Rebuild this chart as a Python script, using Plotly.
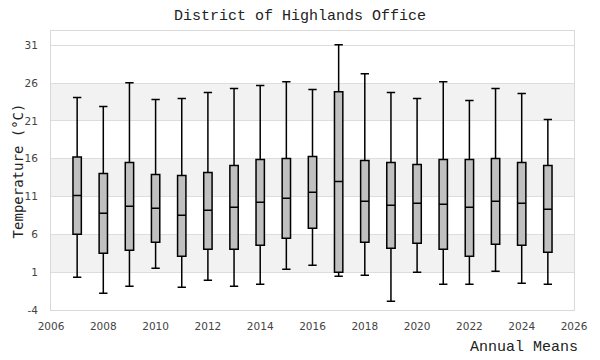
import plotly.graph_objects as go

years = list(range(2007, 2026))
upper = [24.09, 22.9, 26.07, 23.83, 23.96, 24.75, 25.28, 25.68, 26.2, 25.15, 31.09, 27.26, 24.75, 23.96, 26.2, 23.7, 25.28, 24.62, 21.19]
q3 =    [16.25, 14.06, 15.52, 13.93, 13.8, 14.2, 15.12, 15.91, 16.04, 16.3, 24.88, 15.78, 15.52, 15.25, 15.91, 15.91, 16.04, 15.52, 15.12]
median = [11.16, 8.79, 9.71, 9.45, 8.52, 9.18, 9.58, 10.24, 10.77, 11.56, 13.0, 10.37, 9.84, 10.11, 9.97, 9.58, 10.37, 10.11, 9.31]
q1 =    [6.01, 3.51, 3.9, 4.96, 3.11, 4.04, 4.04, 4.56, 5.49, 6.81, 1.0, 4.96, 4.17, 4.83, 4.04, 3.11, 4.7, 4.56, 3.64]
lower = [0.34, -1.77, -0.85, 1.53, -0.98, -0.06, -0.85, -0.58, 1.4, 1.92, 0.47, 0.6, -2.83, 1.0, -0.58, -0.58, 1.13, -0.45, -0.58]

y_ticks = [-4, 1, 6, 11, 16, 21, 26, 31]
y_labels = ["-4", "1", "6", "11", "16", "21", "26", "31"]
x_ticks = list(range(2006, 2027, 2))
bands = [(1, 6), (11, 16), (21, 26)]

fig = go.Figure()
fig.add_trace(go.Box(
    x=years, q1=q1, median=median, q3=q3,
    lowerfence=lower, upperfence=upper,
    fillcolor="#c0c0c0",
    line=dict(color="black", width=1.5),
    width=0.32, whiskerwidth=1,
    boxpoints=False, showlegend=False,
))

for lo, hi in bands:
    fig.add_shape(type="rect", xref="paper", yref="y", x0=0, x1=1, y0=lo, y1=hi,
                  fillcolor="#f2f2f2", line=dict(width=0), layer="below")

mono = "Liberation Mono, DejaVu Sans Mono, monospace"
fig.update_layout(
    width=600, height=360,
    margin=dict(l=51, r=20, t=31, b=50),
    paper_bgcolor="white", plot_bgcolor="white",
    title=dict(text="District of Highlands Office", x=0.5, xref="container",
               y=0.958, yref="container", xanchor="center", yanchor="middle",
               font=dict(family=mono, size=15, color="#222")),
    xaxis=dict(range=[2006, 2026], tickvals=x_ticks, showgrid=False, zeroline=False,
               showline=True, mirror=True, linecolor="#d9d9d9", linewidth=1,
               tickfont=dict(family="DejaVu Sans", size=10.5, color="#444"),
               ticks="", ticklabelstandoff=6),
    yaxis=dict(range=[-4, 32.9], tickvals=y_ticks, ticktext=y_labels,
               showgrid=True, gridcolor="#dddddd",
               gridwidth=1, zeroline=False, showline=True, mirror=True,
               linecolor="#d9d9d9", linewidth=1,
               tickfont=dict(family="DejaVu Sans", size=10.5, color="#444"),
               ticks="", ticklabelstandoff=10),
    annotations=[
        dict(text="Annual Means", xref="paper", yref="paper", x=1.011, y=-0.135,
             xanchor="right", yanchor="middle", showarrow=False,
             font=dict(family=mono, size=15, color="#222")),
        dict(text="Temperature (°C)", xref="paper", yref="paper", x=-0.063, y=0.497,
             xanchor="center", yanchor="middle", textangle=-90, showarrow=False,
             font=dict(family="DejaVu Sans Mono", size=14, color="#222")),
    ],
)

fig.write_html("out.html", config={"displayModeBar": False},
               post_script="document.body.style.margin='0';")
